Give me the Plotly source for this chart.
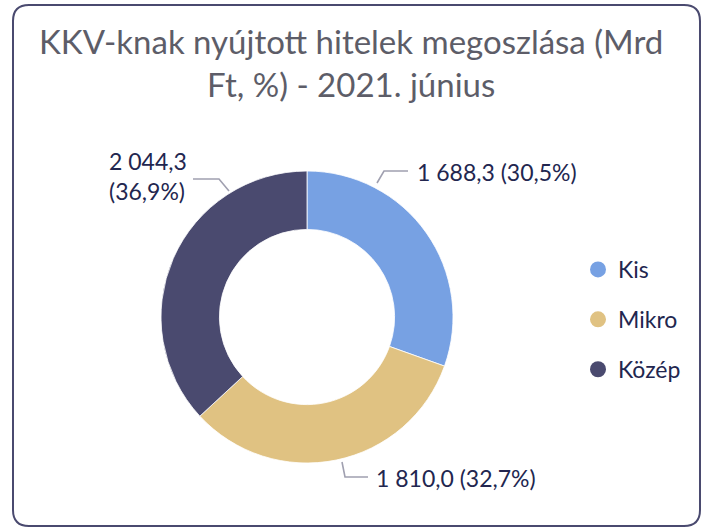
import plotly.graph_objects as go

# ---- data ----
categories = ["Kis", "Mikro", "Közép"]
values = [1688.3, 1810.0, 2044.3]
colors = ["#77a1e3", "#e0c282", "#4a4a6f"]
title_text = "KKV-knak nyújtott hitelek megoszlása (Mrd<br>Ft, %) - 2021. június"

W, H = 702, 528
FONT = "Lato"
TEXT_COLOR = "#22264f"
LEADER_COLOR = "#a0a0b0"


def px(x, y):
    return x / W, 1 - y / H


def hu(v):
    s = f"{v:,.1f}"
    return s.replace(",", " ").replace(".", ",")


total = sum(values)
pct = [v / total * 100 for v in values]
label_texts = [f"{hu(v)} ({p:.1f}%)".replace(".", ",") for v, p in zip(values, pct)]
label_texts[2] = f"{hu(values[2])}<br>({pct[2]:.1f}%)".replace(".", ",")

# pie geometry (pixels)
cx, cy, r = 307, 317, 146
x0, y1 = px(cx - r, cy - r)
x1, y0 = px(cx + r, cy + r)

fig = go.Figure()
fig.add_trace(go.Pie(
    labels=categories, values=values, hole=0.6, sort=False,
    direction="clockwise", rotation=0,
    marker=dict(colors=colors, line=dict(color="white", width=0.8)),
    textinfo="none", hoverinfo="label+value+percent",
    domain=dict(x=[x0, x1], y=[y0, y1]), showlegend=False,
))

# legend entries (circle markers)
for c, col in zip(categories, colors):
    fig.add_trace(go.Scatter(
        x=[None], y=[None], mode="markers", name=c, legendgroup=c,
        marker=dict(symbol="circle", size=22, color=col),
    ))

# leader lines + label layout (pixels): path points, text anchor
leaders = [
    ([(377, 183), (384, 171), (408, 171)], (415, 172), "left", "middle"),
    ([(342, 462), (345, 477), (368, 477)], (374, 478), "left", "middle"),
    ([(229, 191), (219, 179), (193, 179)], (148, 176), "center", "middle"),
]
shapes = []
annotations = []
for (pts, (tx, ty), xa, ya), txt in zip(leaders, label_texts):
    path = ""
    for i, (x, y) in enumerate(pts):
        X, Y = px(x, y)
        path += ("M" if i == 0 else "L") + f"{X:.5f},{Y:.5f} "
    shapes.append(dict(type="path", path=path, xref="paper", yref="paper",
                       line=dict(color=LEADER_COLOR, width=1.6)))
    X, Y = px(tx, ty)
    annotations.append(dict(x=X, y=Y, xref="paper", yref="paper", text=txt,
                            showarrow=False, xanchor=xa, yanchor=ya, align="left",
                            font=dict(family=FONT, size=23, color=TEXT_COLOR)))

# title
tx_, ty_ = px(351, 62)
annotations.append(dict(x=tx_, y=ty_, xref="paper", yref="paper", text=title_text,
                        showarrow=False, xanchor="center", yanchor="middle",
                        font=dict(family=FONT, size=33, color="#5d5d68")))

# rounded frame
bx0, by0, bx1, by1, rr = 13, 5, 700, 526, 16
def P(x, y):
    X, Y = px(x, y)
    return f"{X:.5f},{Y:.5f}"
frame = (f"M{P(bx0 + rr, by0)} L{P(bx1 - rr, by0)} Q{P(bx1, by0)} {P(bx1, by0 + rr)} "
         f"L{P(bx1, by1 - rr)} Q{P(bx1, by1)} {P(bx1 - rr, by1)} "
         f"L{P(bx0 + rr, by1)} Q{P(bx0, by1)} {P(bx0, by1 - rr)} "
         f"L{P(bx0, by0 + rr)} Q{P(bx0, by0)} {P(bx0 + rr, by0)} Z")
shapes.append(dict(type="path", path=frame, xref="paper", yref="paper",
                   line=dict(color="#4a4a6f", width=2), layer="below"))

lx, ly = px(578, 248)
fig.update_layout(
    width=W, height=H,
    margin=dict(l=0, r=0, t=0, b=0),
    paper_bgcolor="white", plot_bgcolor="white",
    xaxis=dict(visible=False), yaxis=dict(visible=False),
    showlegend=True,
    legend=dict(x=lx, y=ly, xanchor="left", yanchor="top",
                font=dict(family=FONT, size=23, color=TEXT_COLOR),
                tracegroupgap=17, itemwidth=30, bgcolor="rgba(0,0,0,0)"),
    shapes=shapes, annotations=annotations,
)

fig.write_html("out.html", config={"displayModeBar": False},
               post_script="document.body.style.margin='0';document.body.style.overflow='hidden';")
